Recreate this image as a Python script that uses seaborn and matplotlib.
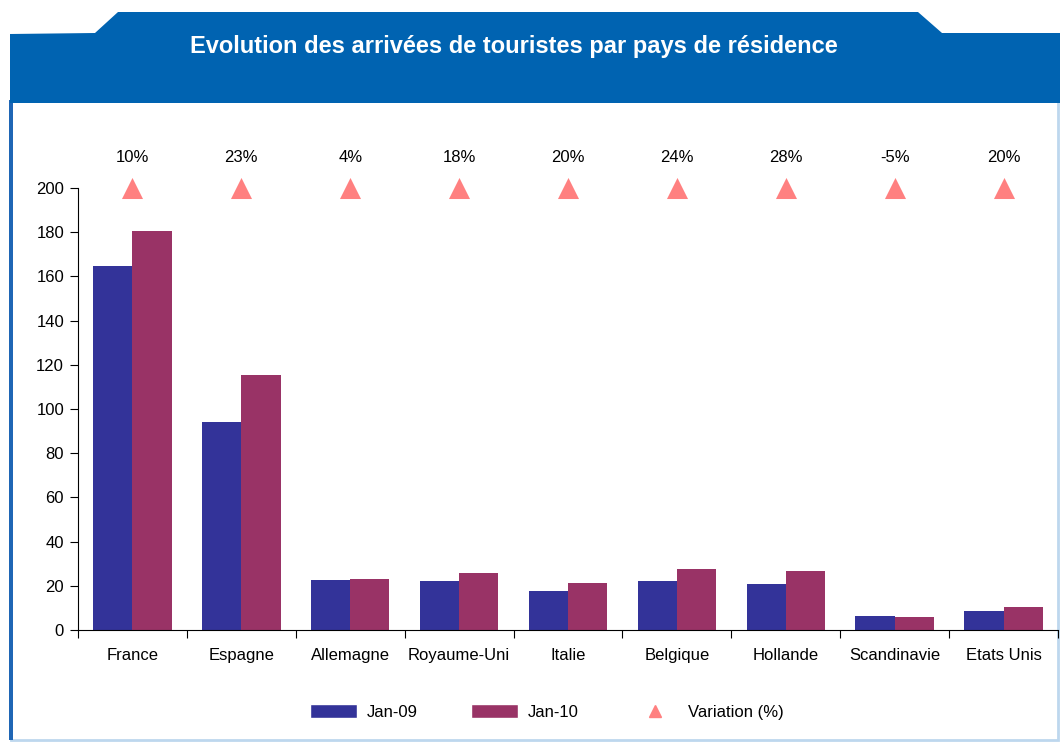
import matplotlib
matplotlib.use("Agg")
import matplotlib.pyplot as plt
import seaborn as sns
import pandas as pd
import numpy as np
from matplotlib.patches import Polygon, Rectangle, Patch
from matplotlib.lines import Line2D

countries = ["France", "Espagne", "Allemagne", "Royaume-Uni", "Italie",
             "Belgique", "Hollande", "Scandinavie", "Etats Unis"]
jan09 = [164.5, 94, 22.5, 22, 17.5, 22, 21, 6.3, 8.6]
jan10 = [180.5, 115.3, 23, 25.7, 21.2, 27.5, 26.6, 5.9, 10.4]
variation = ["10%", "23%", "4%", "18%", "20%", "24%", "28%", "-5%", "20%"]
series = ["Jan-09", "Jan-10"]
colors = ["#333399", "#993366"]
tri_color = "#FF8080"

W, H = 1060, 745

def px(x, y):
    return (x / W, 1 - y / H)

sns.set_theme(style="white")
plt.rcParams["font.family"] = ["Liberation Sans", "DejaVu Sans"]
plt.rcParams["text.color"] = "black"
plt.rcParams["xtick.color"] = "black"
plt.rcParams["ytick.color"] = "black"

df = pd.DataFrame({
    "pays": countries * 2,
    "periode": [series[0]] * len(countries) + [series[1]] * len(countries),
    "valeur": jan09 + jan10,
})

fig = plt.figure(figsize=(W / 100, H / 100), dpi=100)

# frame: blue banner with tab and white body
body = Rectangle(px(11, 740), (1058 - 11) / W, (740 - 100) / H,
                 transform=fig.transFigure, facecolor="white",
                 edgecolor="#BDD7EE", linewidth=2, zorder=-3)
fig.patches.append(body)
left_line = Rectangle(px(9, 740), 4 / W, (740 - 100) / H,
                      transform=fig.transFigure, facecolor="#1F66B5",
                      edgecolor="none", zorder=-2)
fig.patches.append(left_line)
banner_pts = [(10, 103), (10, 34), (95, 33), (118, 12), (918, 12),
              (942, 33), (1060, 33), (1060, 103)]
banner = Polygon([px(x, y) for x, y in banner_pts], closed=True,
                 transform=fig.transFigure, facecolor="#0063B1",
                 edgecolor="none", zorder=-2)
fig.patches.append(banner)
fig.text(*px(514, 47), "Evolution des arrivées de touristes par pays de résidence",
         color="white", fontsize=17, fontweight="bold", ha="center", va="center")

ax = fig.add_axes([78 / W, 1 - 630 / H, (1058 - 78) / W, (630 - 188) / H])
ax.patch.set_alpha(0)
sns.barplot(data=df, x="pays", y="valeur", hue="periode", palette=colors,
            width=0.72, gap=0, saturation=1, linewidth=0, ax=ax, legend=False)

ax.set_xlim(-0.5, len(countries) - 0.5)
ax.set_ylim(0, 200)
ax.set_yticks(np.arange(0, 201, 20))
ax.set_xlabel("")
ax.set_ylabel("")
ax.set_xticks(np.arange(len(countries)))
ax.set_xticklabels(countries)
ax.set_xticks(np.arange(len(countries) + 1) - 0.5, minor=True)
ax.tick_params(axis="x", which="major", length=0, pad=13, labelsize=12)
ax.tick_params(axis="x", which="minor", length=6, width=0.8, color="black",
               direction="out", bottom=True)
ax.tick_params(axis="y", length=6, width=0.8, color="black", direction="out",
               left=True, labelsize=12, pad=4)
for s in ["top", "right"]:
    ax.spines[s].set_visible(False)
for s in ["left", "bottom"]:
    ax.spines[s].set_color("black")
    ax.spines[s].set_linewidth(0.8)

# variation markers above the bars
xs = np.arange(len(countries))
ax.scatter(xs, [200] * len(xs), marker="^", s=230, color=tri_color,
           clip_on=False, zorder=5, linewidths=0)
for x, lab in zip(xs, variation):
    ax.text(x, 214, lab, ha="center", va="center", fontsize=12, clip_on=False)

handles = [Patch(facecolor=colors[0], label=series[0]),
           Patch(facecolor=colors[1], label=series[1]),
           Line2D([], [], marker="^", linestyle="none", color=tri_color,
                  markersize=9, label="Variation (%)")]
fig.legend(handles=handles, loc="center", bbox_to_anchor=px(547, 712),
           ncol=3, frameon=False, fontsize=12, handlelength=2.8,
           handleheight=0.9, columnspacing=3.2, handletextpad=0.6)

fig.savefig("out.png", dpi=100)
